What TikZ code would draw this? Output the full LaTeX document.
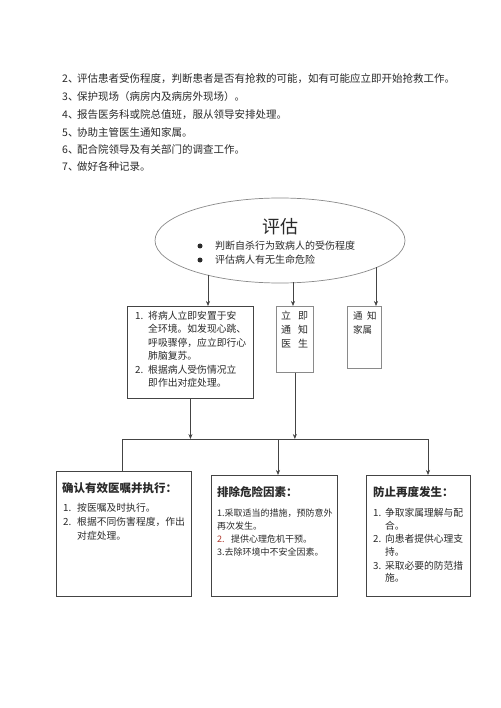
\documentclass[tikz,border=0pt]{standalone}
\usepackage{fontspec}
\setmainfont{Noto Sans CJK SC}
\usetikzlibrary{shapes.geometric,arrows.meta}
\XeTeXlinebreaklocale "zh"
\XeTeXlinebreakskip=0pt plus 2pt
\definecolor{ink}{HTML}{2A2A2A}
\definecolor{edge}{HTML}{444444}
\definecolor{soft}{HTML}{8A8A8A}
\definecolor{redn}{HTML}{B03A2E}
\newcommand\fsz[1]{\fontsize{#1}{#1}\selectfont}
\tikzset{
  tx/.style={anchor=base west, inner sep=0pt, text=ink},
  topl/.style={tx, font=\fsz{10.5}},
  smallt/.style={tx, font=\fsz{9.8}},
  bt/.style={tx, font=\fsz{9}},
  ct/.style={tx, font=\fsz{9.75}},
  ttl/.style={tx, font=\fsz{11.5}\bfseries},
  darkbox/.style={draw=edge, line width=0.9pt, anchor=north west, inner sep=0pt},
  lightbox/.style={draw=soft, line width=0.7pt, anchor=north west, inner sep=0pt},
  conn/.style={draw=edge, line width=0.6pt},
  arr/.style={conn, -{Stealth[length=5pt,width=4pt]}},
}
\begin{document}
\begin{tikzpicture}[x=1pt,y=-1pt]
\useasboundingbox (0,0) rectangle (500,708);
\fill[white] (0,0) rectangle (500,708);

% top list
\node[topl] (t2n) at (62,83) {2、};
\node[topl] (t2) at (77,83) {评估患者受伤程度，判断患者是否有抢救的可能，如有可能应立即开始抢救工作。};
\node[topl] (t3n) at (62,101) {3、};
\node[topl] (t3) at (77,101) {保护现场（病房内及病房外现场）。};
\node[topl] (t4n) at (62,119) {4、};
\node[topl] (t4) at (77,119) {报告医务科或院总值班，服从领导安排处理。};
\node[topl] (t5n) at (62,137) {5、};
\node[topl] (t5) at (77,137) {协助主管医生通知家属。};
\node[topl] (t6n) at (62,154) {6、};
\node[topl] (t6) at (77,154) {配合院领导及有关部门的调查工作。};
\node[topl] (t7n) at (62,171) {7、};
\node[topl] (t7) at (77,171) {做好各种记录。};

% ellipse
\node[ellipse, draw=soft, line width=0.7pt, minimum width=250, minimum height=85, inner sep=0pt] (e) at (280,240.5) {};
\node[inner sep=0pt, text=ink, font=\fsz{18}] (etitle) at (280,227) {评估};
\node[circle, fill=ink, inner sep=0pt, minimum size=5] (bu1) at (200,246) {};
\node[circle, fill=ink, inner sep=0pt, minimum size=5] (bu2) at (200,260) {};
\node[tx, font=\fsz{10}] (el1) at (215,249.8) {判断自杀行为致病人的受伤程度};
\node[tx, font=\fsz{10}] (el2) at (215,263.8) {评估病人有无生命危险};

% middle boxes
\node[darkbox, minimum width=126, minimum height=92] (b1) at (127,306) {};
\node[lightbox, minimum width=37, minimum height=66] (b2) at (276,306) {};
\node[lightbox, minimum width=34, minimum height=62] (b3) at (347,306) {};

\node[smallt] (p1n) at (135,319) {1.};
\node[smallt] (p1a) at (148,319) {\makebox[99pt][s]{将病人立即安置于安}};
\node[smallt] (p1b) at (148,332.5) {\makebox[99pt][s]{全环境。如发现心跳、}};
\node[smallt] (p1c) at (148,346) {\makebox[99pt][s]{呼吸骤停，应立即行心}};
\node[smallt] (p1d) at (148,359.5) {肺脑复苏。};
\node[smallt] (p2n) at (135,373) {2.};
\node[smallt] (p2a) at (148,373) {\makebox[99pt][s]{根据病人受伤情况立}};
\node[smallt] (p2b) at (148,386.5) {即作出对症处理。};

\node[tx, font=\fsz{10}] (q1) at (281,319) {立\hspace{7pt}即};
\node[tx, font=\fsz{10}] (q2) at (281,333) {通\hspace{7pt}知};
\node[tx, font=\fsz{10}] (q3) at (281,347) {医\hspace{7pt}生};

\node[tx, font=\fsz{9.5}] (r1) at (353,319) {通\hspace{4.5pt}知};
\node[tx, font=\fsz{9.5}] (r2) at (353,333) {家属};

% bottom boxes
\node[darkbox, minimum width=135, minimum height=125] (bA) at (56,471) {};
\node[darkbox, minimum width=126, minimum height=121] (bB) at (211,475) {};
\node[darkbox, minimum width=104, minimum height=121] (bC) at (366,475) {};

\node[ttl] (aT) at (62,492.4) {确认有效医嘱并执行：};
\node[smallt] (a1n) at (63,511) {1.};
\node[smallt] (a1) at (77,511) {按医嘱及时执行。};
\node[smallt] (a2n) at (63,525) {2.};
\node[smallt] (a2) at (77,525) {根据不同伤害程度，作出};
\node[smallt] (a3) at (77,539) {对症处理。};

\node[ttl] (bT) at (217,496.4) {排除危险因素：};
\node[bt] (bb1) at (217,516) {1.采取适当的措施，预防意外};
\node[bt] (bb2) at (217,529) {再次发生。};
\node[bt, text=redn] (bb3n) at (217,542) {2.};
\node[bt] (bb3) at (231,542) {提供心理危机干预。};
\node[bt] (bb4) at (217,555) {3.去除环境中不安全因素。};

\node[ttl] (cT) at (373,496.4) {防止再度发生：};
\node[ct] (c1n) at (373,516) {1.};
\node[ct] (c1) at (385,516) {争取家属理解与配};
\node[ct] (c2) at (385,529) {合。};
\node[ct] (c3n) at (373,542) {2.};
\node[ct] (c3) at (385,542) {向患者提供心理支};
\node[ct] (c4) at (385,555) {持。};
\node[ct] (c5n) at (373,569) {3.};
\node[ct] (c5) at (385,569) {采取必要的防范措};
\node[ct] (c6) at (385,581) {施。};

% connectors
\coordinate (e1) at (208,274.7);
\coordinate (e2) at (293,282.3);
\coordinate (e3) at (376,267.2);
\draw[arr] (e1) -- (e1 |- b1.north);
\draw[arr] (e2) -- (e2 |- b2.north);
\draw[arr] (e3) -- (e3 |- b3.north);

\coordinate (hL) at (122,439);
\coordinate (hM) at (278,439);
\coordinate (hR) at (428,439);
\draw[arr] (b1.south) -- (b1.south |- hL);
\draw[arr] (b2.south) -- (b2.south |- hL);
\draw[conn] (hL) -- (hR);
\draw[conn] (hL) -- (hL |- bA.north);
\draw[arr] (hM) -- (hM |- bB.north);
\draw[arr] (hR) -- (hR |- bC.north);
\end{tikzpicture}
\end{document}
